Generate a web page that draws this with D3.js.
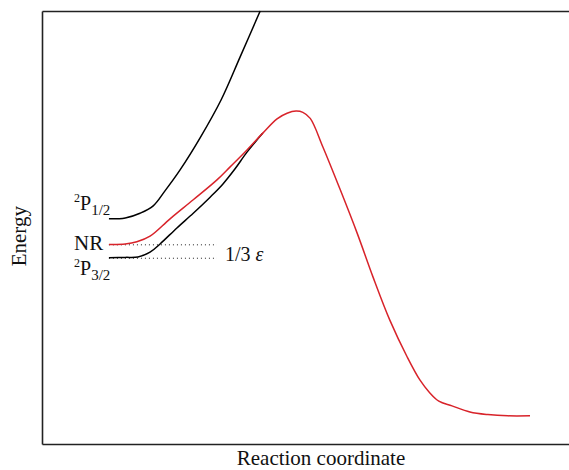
<!DOCTYPE html>
<html>
<head>
<meta charset="utf-8">
<script src="https://cdn.jsdelivr.net/npm/d3@7"></script>
<style>
  html, body { margin: 0; padding: 0; background: #fff; }
  svg { display: block; }
  text { font-family: "Liberation Serif", "DejaVu Serif", serif; fill: #111; }
</style>
</head>
<body>
<div id="chart"></div>
<script>
// Potential energy curves along the reaction coordinate (arbitrary units 0..10).
var upperX = [1.27, 1.58, 1.86, 2.11, 2.33, 2.62, 3.00, 3.40, 3.76, 4.14];
var upperY = [5.20, 5.22, 5.33, 5.50, 5.84, 6.33, 7.07, 7.95, 8.94, 10.0];

var nrX = [1.27, 1.58, 1.80, 2.05, 2.43, 2.87, 3.32, 3.57, 3.89, 4.19, 4.46, 4.65, 4.82, 4.95,
           5.09, 5.33, 5.66, 5.98, 6.28, 6.60, 6.93, 7.17, 7.36, 7.53, 7.78,
           8.12, 8.46, 8.84, 9.26];
var nrY = [4.61, 4.62, 4.67, 4.80, 5.20, 5.64, 6.10, 6.40, 6.79, 7.18, 7.51, 7.64, 7.69, 7.66,
           7.52, 6.86, 5.87, 4.87, 3.86, 2.86, 2.01, 1.48, 1.18, 0.99, 0.88,
           0.74, 0.68, 0.65, 0.65];

var lowerX = [1.27, 1.58, 1.82, 2.05, 2.24, 2.56, 2.87, 3.19, 3.43, 3.66, 3.89, 4.19];
var lowerY = [4.30, 4.31, 4.32, 4.43, 4.62, 4.99, 5.33, 5.70, 6.00, 6.35, 6.74, 7.18];

// Dotted reference levels (NR and 2P3/2), from curve start to the 1/3 ε label.
var levelY = [4.60, 4.29];
var levelX = [1.27, 3.32];

var W = 569, H = 470;
var margin = { left: 42, top: 11, right: 0, bottom: 26 };

var svg = d3.select("#chart").append("svg")
  .attr("width", W).attr("height", H);

var x = d3.scaleLinear().domain([0, 10]).range([margin.left, W - margin.right]);
var y = d3.scaleLinear().domain([0, 10]).range([H - margin.bottom, margin.top]);

// Frame: bottom, top, left (no right edge in the original).
function frame(axis, tx, ty) {
  var g = svg.append("g").attr("transform", "translate(" + tx + "," + ty + ")")
    .call(axis.tickValues([]).tickSizeOuter(0));
  g.select(".domain").attr("stroke", "#222").attr("stroke-width", 1.6);
}
frame(d3.axisBottom(x), 0, y(0));
frame(d3.axisTop(x), 0, y(10));
frame(d3.axisLeft(y), x(0), 0);

// Dotted levels.
svg.selectAll("line.level")
  .data(levelY).enter().append("line")
  .attr("class", "level")
  .attr("x1", x(levelX[0])).attr("x2", x(levelX[1]))
  .attr("y1", function (d) { return y(d); })
  .attr("y2", function (d) { return y(d); })
  .attr("stroke", "#222")
  .attr("stroke-width", 1)
  .attr("stroke-dasharray", "1,3");

function zipXY(xs, ys) {
  return xs.map(function (v, i) { return [v, ys[i]]; });
}

var line = d3.line()
  .x(function (d) { return x(d[0]); })
  .y(function (d) { return y(d[1]); })
  .curve(d3.curveCatmullRom.alpha(0.5));

var curves = [
  { pts: zipXY(upperX, upperY), color: "#000" },
  { pts: zipXY(lowerX, lowerY), color: "#000" },
  { pts: zipXY(nrX, nrY), color: "#d8232a" }
];

svg.append("g").selectAll("path")
  .data(curves).enter().append("path")
  .attr("d", function (d) { return line(d.pts); })
  .attr("fill", "none")
  .attr("stroke", function (d) { return d.color; })
  .attr("stroke-width", 1.5);

// Term-symbol labels.
function termLabel(px, py, sup, main, sub) {
  var t = svg.append("text").attr("x", px).attr("y", py);
  t.append("tspan").attr("font-size", 12).attr("dy", -8).text(sup);
  t.append("tspan").attr("font-size", 20).attr("dy", 8).text(main);
  if (sub) t.append("tspan").attr("font-size", 15).attr("dy", 5).text(sub);
  return t;
}
termLabel(74, 210, "2", "P", "1/2");
termLabel(74, 275, "2", "P", "3/2");
svg.append("text").attr("x", 74).attr("y", 250).attr("font-size", 21).text("NR");

var eps = svg.append("text").attr("x", 225).attr("y", 261).attr("font-size", 20);
eps.append("tspan").text("1/3 ");
eps.append("tspan").attr("font-style", "italic").text("\u03b5");

// Axis titles.
svg.append("text")
  .attr("transform", "translate(26," + y(4.8) + ") rotate(-90)")
  .attr("text-anchor", "middle")
  .attr("font-size", 21)
  .text("Energy");

svg.append("text")
  .attr("x", 321).attr("y", 465)
  .attr("text-anchor", "middle")
  .attr("font-size", 21)
  .text("Reaction coordinate");
</script>
</body>
</html>
